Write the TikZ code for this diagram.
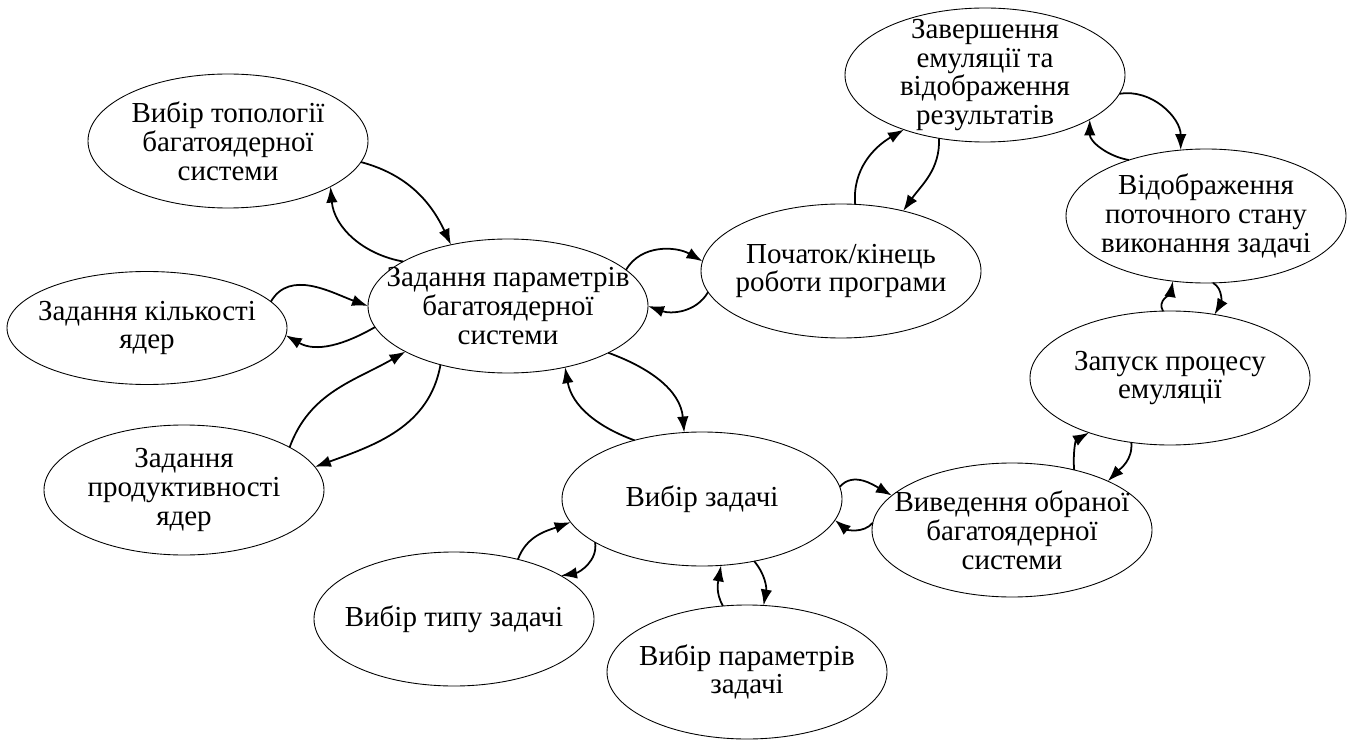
\documentclass[tikz,border=0pt]{standalone}
\usepackage{fontspec}
\setmainfont{Liberation Serif}
\usepackage{tikz}
\usetikzlibrary{arrows,arrows.meta}
\usetikzlibrary{shapes.geometric}
\tikzset{>={Latex[length=3.2mm,width=2.3mm]}}
\tikzstyle{stage}=[ellipse,draw,line width=0.5pt,inner sep=-3cm,outer sep=0pt,
  minimum width=5.6cm,minimum height=2.68cm,align=center,
  font=\fontsize{16.5}{16.4}\selectfont]
\tikzstyle{link}=[->,line width=1pt]

\begin{document}
\begin{tikzpicture}
  \useasboundingbox (0,0) rectangle (27.08,14.8);
  \node[stage] (top) at (4.56,11.98) {Вибір топології\\багатоядерної\\системи};
  \node[stage,minimum height=2.26cm] (cores) at (2.94,8.24) {Задання кількості\\ядер};
  \node[stage,minimum height=2.6cm] (perf) at (3.68,5.0) {Задання\\продуктивності\\ядер};
  \node[stage] (par) at (10.16,8.68) {Задання параметрів\\багатоядерної\\системи};
  \node[stage] (start) at (16.82,9.38) {Початок/кінець\\роботи програми};
  \node[stage] (fin) at (19.7,13.3) {Завершення\\емуляції та\\відображення\\результатів};
  \node[stage] (show) at (24.12,10.48) {Відображення\\поточного стану\\виконання задачі};
  \node[stage] (run) at (23.4,7.24) {Запуск процесу\\емуляції};
  \node[stage] (out) at (20.24,4.2) {Виведення обраної\\багатоядерної\\системи};
  \node[stage] (task) at (14.04,4.82) {Вибір задачі};
  \node[stage] (type) at (9.08,2.42) {Вибір типу задачі};
  \node[stage] (tpar) at (14.94,1.36) {Вибір параметрів\\задачі};

  \draw[link] (top.-9) to[out=-15,in=115] (par.133);
  \draw[link] (par.157) to[out=170,in=-85] (top.-24);
  \draw[link] (cores.12) to[out=60,in=160] (par.180);
  \draw[link] (par.-171) to[out=-150,in=-30] (cores.-3);
  \draw[link] (perf.22) to[out=70,in=210] (par.-156);
  \draw[link] (par.-139) to[out=-100,in=20] (perf.10);
  \draw[link] (par.17) to[out=60,in=150] (start.176);
  \draw[link] (start.-171) to[out=-120,in=-20] (par.0);
  \draw[link] (par.-25) to[out=-20,in=95] (task.105);
  \draw[link] (task.139) to[out=160,in=-80] (par.-47);
  \draw[link] (type.43) to[out=70,in=200] (task.190);
  \draw[link] (task.202) to[out=-80,in=10] (type.22);
  \draw[link] (tpar.110) to[out=120,in=-100] (task.-74);
  \draw[link] (task.-50) to[out=-50,in=80] (tpar.76);
  \draw[link] (task.5) to[out=50,in=150] (out.164);
  \draw[link] (out.177) to[out=-130,in=-40] (task.-9);
  \draw[link] (out.44) to[out=95,in=210] (run.214);
  \draw[link] (run.-121) to[out=-85,in=45] (out.27);
  \draw[link] (run.96) to[out=120,in=-100] (show.-117);
  \draw[link] (show.-84) to[out=-30,in=60] (run.55);
  \draw[link] (fin.-8) to[out=10,in=90] (show.111);
  \draw[link] (show.144) to[out=170,in=-90] (fin.-23);
  \draw[link] (start.78) to[out=95,in=210] (fin.-146);
  \draw[link] (fin.-126) to[out=-88,in=55] (start.44);
\end{tikzpicture}
\end{document}
